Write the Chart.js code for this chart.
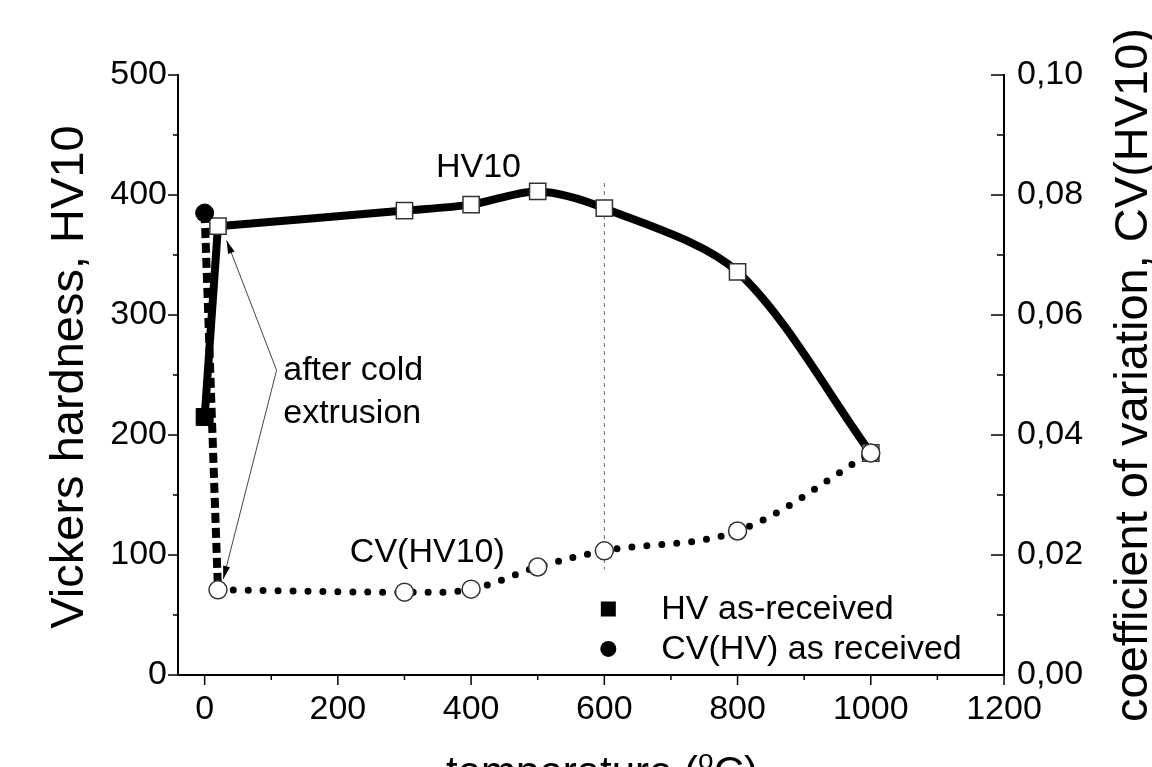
<!DOCTYPE html>
<html><head><meta charset="utf-8">
<script src="https://cdn.jsdelivr.net/npm/chart.js@4.4.0/dist/chart.umd.min.js"></script>
<style>html,body{margin:0;padding:0;background:#fff;overflow:hidden}#wrap{width:1152px;height:767px;position:relative}</style>
</head><body><div id="wrap"><canvas id="c" width="1152" height="767"></canvas></div>
<script>
// ---- data ----
const temperatures = [20, 300, 400, 500, 600, 800, 1000];
const hv10Values = [374, 387, 392, 403, 389, 336, 185];
const cvValues = [0.0142, 0.0138, 0.0143, 0.0180, 0.0207, 0.0240, 0.0370];
const asReceivedTemp = [0];
const hvAsReceived = [215];
const cvAsReceived = [0.077];
const refLineTemp = [600, 600];
const refLineHV = [410, 88];
const xTickValues = [0, 200, 400, 600, 800, 1000, 1200];
const hvTickValues = [0, 100, 200, 300, 400, 500];
const cvTickValues = [0, 0.02, 0.04, 0.06, 0.08, 0.10];
const legendLabels = ['HV as-received', 'CV(HV) as received'];

const FONT = "'Liberation Sans', Arial, sans-serif";

const pts = (xs, ys) => xs.map((x, i) => ({x: x, y: ys[i]}));

const decor = {
  id: 'decor',
  afterDraw(chart) {
    const ctx = chart.ctx, a = chart.chartArea;
    const X = chart.scales.x, Y = chart.scales.y, Y1 = chart.scales.y1;
    ctx.save();
    ctx.strokeStyle = '#000'; ctx.lineWidth = 1.5;
    const seg = (x1, y1, x2, y2) => { ctx.beginPath(); ctx.moveTo(x1, y1); ctx.lineTo(x2, y2); ctx.stroke(); };
    // x ticks (outward)
    for (let v = 0; v <= 1200; v += 100) {
      const p = X.getPixelForValue(v);
      seg(p, a.bottom, p, a.bottom + (v % 200 === 0 ? 10 : 5));
    }
    // left ticks (outward)
    for (let v = 0; v <= 500; v += 50) {
      const p = Y.getPixelForValue(v);
      seg(a.left, p, a.left - (v % 100 === 0 ? 10 : 5), p);
    }
    // right ticks (inward)
    for (let i = 0; i <= 10; i++) {
      const p = Y1.getPixelForValue(i / 100);
      seg(a.right, p, a.right - (i % 2 === 0 ? 13 : 7), p);
    }
    // axis titles
    ctx.fillStyle = '#000';
    ctx.textAlign = 'center'; ctx.textBaseline = 'alphabetic';
    ctx.font = '47px ' + FONT;
    ctx.save(); ctx.translate(83, (a.top + a.bottom) / 2 + 2); ctx.rotate(-Math.PI / 2);
    ctx.fillText('Vickers hardness, HV10', 0, 0); ctx.restore();
    ctx.save(); ctx.translate(1147, (a.top + a.bottom) / 2); ctx.rotate(-Math.PI / 2);
    ctx.fillText('coefficient of variation, CV(HV10)', 0, 0); ctx.restore();
    // x title with superscript
    const t1 = 'temperature (', t2 = 'o', t3 = 'C)';
    ctx.font = '42px ' + FONT; const w1 = ctx.measureText(t1).width, w3 = ctx.measureText(t3).width;
    ctx.font = '28px ' + FONT; const w2 = ctx.measureText(t2).width;
    let sx = 602 - (w1 + w2 + w3) / 2, by = 786;
    ctx.textAlign = 'left';
    ctx.font = '42px ' + FONT; ctx.fillText(t1, sx, by);
    ctx.font = '28px ' + FONT; ctx.fillText(t2, sx + w1, by - 17);
    ctx.font = '42px ' + FONT; ctx.fillText(t3, sx + w1 + w2, by);
    // annotations
    ctx.font = '34px ' + FONT; ctx.textBaseline = 'middle';
    ctx.textAlign = 'center';
    ctx.fillText('HV10', X.getPixelForValue(411), Y.getPixelForValue(423));
    ctx.textAlign = 'left';
    ctx.fillText('CV(HV10)', X.getPixelForValue(218), Y.getPixelForValue(102));
    ctx.fillText('after cold', X.getPixelForValue(118), Y.getPixelForValue(254));
    ctx.fillText('extrusion', X.getPixelForValue(118), Y.getPixelForValue(218));
    // arrows
    const sxp = X.getPixelForValue(108), syp = Y.getPixelForValue(254);
    const arrow = (tx, ty) => {
      ctx.strokeStyle = '#444'; ctx.lineWidth = 1;
      seg(sxp, syp, tx, ty);
      const ang = Math.atan2(ty - syp, tx - sxp), L = 13, W = 3.5;
      ctx.fillStyle = '#000';
      ctx.beginPath(); ctx.moveTo(tx, ty);
      ctx.lineTo(tx - L * Math.cos(ang) + W * Math.sin(ang), ty - L * Math.sin(ang) - W * Math.cos(ang));
      ctx.lineTo(tx - L * Math.cos(ang) - W * Math.sin(ang), ty - L * Math.sin(ang) + W * Math.cos(ang));
      ctx.closePath(); ctx.fill();
    };
    arrow(X.getPixelForValue(33), Y.getPixelForValue(362));
    arrow(X.getPixelForValue(28), Y.getPixelForValue(80));
    // legend
    const lx = X.getPixelForValue(606);
    const ly1 = Y.getPixelForValue(55), ly2 = Y.getPixelForValue(21.7);
    ctx.fillStyle = '#000';
    ctx.fillRect(lx - 7.5, ly1 - 7.5, 15, 15);
    ctx.beginPath(); ctx.arc(lx, ly2, 8, 0, Math.PI * 2); ctx.fill();
    ctx.font = '34px ' + FONT; ctx.textAlign = 'left'; ctx.textBaseline = 'middle';
    ctx.fillText(legendLabels[0], lx + 53, ly1 + 1);
    ctx.fillText(legendLabels[1], lx + 53, ly2 + 1);
    ctx.restore();
  }
};

new Chart(document.getElementById('c'), {
  type: 'line',
  data: {
    datasets: [
      { label: 'ref', data: pts(refLineTemp, refLineHV), yAxisID: 'y', borderColor: '#666', borderWidth: 1,
        borderDash: [4, 4], pointRadius: 0, order: 7 },
      { label: 'hvConnect', data: pts([asReceivedTemp[0], temperatures[0]], [hvAsReceived[0], hv10Values[0]]), yAxisID: 'y',
        borderColor: '#000', borderWidth: 8, pointRadius: 0, order: 6 },
      { label: 'cvConnect', data: pts([asReceivedTemp[0], temperatures[0]], [cvAsReceived[0], cvValues[0]]), yAxisID: 'y1',
        borderColor: '#000', borderWidth: 8, borderDash: [10, 5], pointRadius: 0, order: 5 },
      { label: 'HV10', data: pts(temperatures, hv10Values), yAxisID: 'y', borderColor: '#000', borderWidth: 8,
        tension: 0.3, pointStyle: 'rect', pointRadius: 11.5, pointBackgroundColor: '#fff',
        pointBorderColor: '#333', pointBorderWidth: 1.5, order: 4 },
      { label: 'CV(HV10)', data: pts(temperatures, cvValues), yAxisID: 'y1', borderColor: '#000', borderWidth: 7,
        borderDash: [0, 15], borderCapStyle: 'round', tension: 0.35, pointStyle: 'circle',
        pointRadius: 9, pointBackgroundColor: '#fff', pointBorderColor: '#333', pointBorderWidth: 1.5, order: 3 },
      { label: legendLabels[0], data: pts(asReceivedTemp, hvAsReceived), yAxisID: 'y', showLine: false,
        pointStyle: 'rect', pointRadius: 12, pointBackgroundColor: '#000', pointBorderColor: '#000', order: 2 },
      { label: legendLabels[1], data: pts(asReceivedTemp, cvAsReceived), yAxisID: 'y1', showLine: false,
        pointStyle: 'circle', pointRadius: 9, pointBackgroundColor: '#000', pointBorderColor: '#000', order: 1 }
    ]
  },
  options: {
    responsive: false, animation: false, devicePixelRatio: 1, events: [],
    layout: { padding: { top: 75, left: 0, right: 0, bottom: 0 } },
    plugins: { legend: { display: false }, tooltip: { enabled: false } },
    scales: {
      x: { type: 'linear', min: -40, max: 1200,
        grid: { display: false, drawTicks: false }, border: { display: true, color: '#000', width: 2 },
        ticks: { includeBounds: false, stepSize: 200, padding: 14, color: '#000', font: { family: FONT, size: 34 },
          callback: v => String(v) },
        afterBuildTicks: s => { s.ticks = xTickValues.map(v => ({value: v})); },
        afterFit: s => { s.height = 92; } },
      y: { position: 'left', min: 0, max: 500,
        grid: { display: false, drawTicks: false }, border: { display: true, color: '#000', width: 2 },
        ticks: { padding: 11, color: '#000', font: { family: FONT, size: 34 }, callback: v => String(v) },
        afterBuildTicks: s => { s.ticks = hvTickValues.map(v => ({value: v})); },
        afterFit: s => { s.width = 178; } },
      y1: { position: 'right', min: 0, max: 0.1,
        grid: { display: false, drawTicks: false }, border: { display: true, color: '#000', width: 2 },
        ticks: { padding: 13, color: '#000', font: { family: FONT, size: 34 },
          callback: v => Number(v).toFixed(2).replace('.', ',') },
        afterBuildTicks: s => { s.ticks = cvTickValues.map(v => ({value: v})); },
        afterFit: s => { s.width = 148; } }
    }
  },
  plugins: [decor]
});
</script></body></html>
